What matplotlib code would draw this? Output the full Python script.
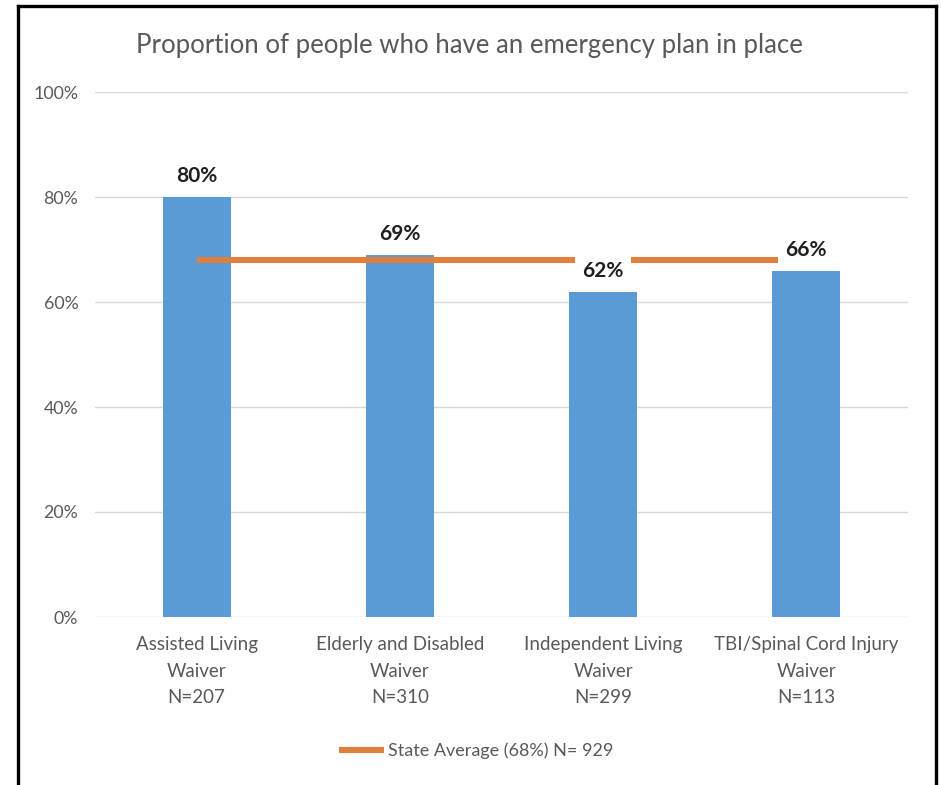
import matplotlib
matplotlib.use("Agg")
import matplotlib.pyplot as plt
from matplotlib.lines import Line2D
from matplotlib.ticker import PercentFormatter

plt.rcParams['font.family'] = ['Lato', 'DejaVu Sans']

categories = ["Assisted Living\nWaiver\nN=207",
              "Elderly and Disabled\nWaiver\nN=310",
              "Independent Living\nWaiver\nN=299",
              "TBI/Spinal Cord Injury\nWaiver\nN=113"]
plan_pct = [80, 69, 62, 66]
state_avg = 68
state_label = "State Average (68%) N= 929"
title = "Proportion of people who have an emergency plan in place"
y_ticks = [0, 20, 40, 60, 80, 100]

BAR = "#5b9bd5"
ORANGE = "#e0803e"
GREY = "#595959"
GRID = "#d9d9d9"

fig = plt.figure(figsize=(9.41, 7.85), dpi=100)
ax = fig.add_axes([95 / 941, 1 - 617 / 785, (908 - 95) / 941, (617 - 92) / 785])

x = list(range(len(categories)))
ax.bar(x, plan_pct, width=0.335, color=BAR, zorder=2)

# state average line across the category centres
avg_line, = ax.plot([x[0], x[-1]], [state_avg, state_avg], color=ORANGE,
                    lw=4.4, solid_capstyle='butt', zorder=3, label=state_label)

for xi, v in zip(x, plan_pct):
    ax.annotate(f"{v}%", (xi, v), xytext=(0, 15), textcoords='offset pixels',
                ha='center', va='baseline', fontsize=15, fontweight='bold',
                color='#1f1f1f', zorder=5,
                bbox=dict(boxstyle='square,pad=0.35', fc='white', ec='none'))

ax.set_xlim(-0.5, len(categories) - 0.5)
ax.set_ylim(0, 100)
ax.set_yticks(y_ticks)
ax.yaxis.set_major_formatter(PercentFormatter(decimals=0))
ax.set_xticks(x)
ax.set_xticklabels(categories, linespacing=1.68)
ax.tick_params(axis='x', length=0, pad=14, labelsize=13.5, labelcolor=GREY)
ax.tick_params(axis='y', length=0, pad=12, labelsize=12.8, labelcolor=GREY)
ax.grid(axis='y', color=GRID, lw=1.0, zorder=0)
ax.set_axisbelow(True)
for s in ax.spines.values():
    s.set_visible(False)

fig.text(469 / 941, 1 - 45 / 785, title, ha='center', va='center',
         fontsize=18.5, color=GREY)

fig.legend(handles=[avg_line], loc='center',
           bbox_to_anchor=(476 / 941, 1 - 751 / 785), frameon=False,
           fontsize=13, labelcolor=GREY, handlelength=2.5, handletextpad=0.2)

# outer frame (top, left, right)
W, H = 941, 785
fx = lambda p: p / W
fy = lambda p: 1 - p / H
for xs, ys in [((18, 935.5), (5.5, 5.5)),
               ((18, 18), (5.5, 790)),
               ((935.5, 935.5), (5.5, 790))]:
    fig.add_artist(Line2D([fx(v) for v in xs], [fy(v) for v in ys],
                          color='black', lw=2.4, solid_capstyle='projecting'))

fig.savefig("out.png", dpi=100, facecolor='white')
